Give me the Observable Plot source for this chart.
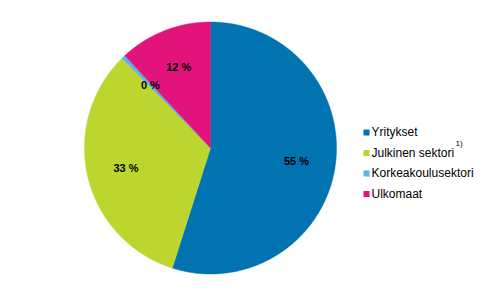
<!DOCTYPE html>
<html><head><meta charset="utf-8">
<script src="https://cdn.jsdelivr.net/npm/d3@7"></script>
<script src="https://cdn.jsdelivr.net/npm/@observablehq/plot@0.6"></script>
<style>body{margin:0;background:#fff}</style>
</head><body><div id="chart"></div>
<script>
const categories = ["Yritykset", "Julkinen sektori", "Korkeakoulusektori", "Ulkomaat"];
const shares = [54.9, 32.7, 0.5, 11.9];
const valueLabels = ["55 %", "33 %", "0 %", "12 %"];
const footnotes = ["", "1)", "", ""];
const colors = ["#0073b0", "#bdd52f", "#5db3e6", "#e2137b"];

const W = 487, H = 302;
const cx = 210, cy = 147.5, R = 126;
const data = categories.map((name, i) => ({name, share: shares[i], label: valueLabels[i], note: footnotes[i], i}));
const arcs = d3.pie().sort(null).value(d => d.share)(data);

const slicePts = [];
for (const a of arcs) {
  slicePts.push({name: a.data.name, x: cx, y: cy});
  const n = Math.max(2, Math.ceil((a.endAngle - a.startAngle) / 0.01));
  for (let k = 0; k <= n; k++) {
    const t = a.startAngle + (a.endAngle - a.startAngle) * k / n;
    slicePts.push({name: a.data.name, x: cx + R * Math.sin(t), y: cy - R * Math.cos(t)});
  }
  slicePts.push({name: a.data.name, x: cx, y: cy});
}
const labelPts = arcs.map(a => {
  const m = (a.startAngle + a.endAngle) / 2;
  const rr = R * 0.69;
  return {label: a.data.label, x: cx + rr * Math.sin(m), y: cy - rr * Math.cos(m)};
});
const legX = 366, legY0 = 132, legDy = 20.5;
const legend = data.map(d => ({...d, x: legX, y: legY0 + d.i * legDy}));

const chart = Plot.plot({
  width: W, height: H,
  margin: 0,
  x: {domain: [0, W], range: [0, W], axis: null},
  y: {domain: [0, H], range: [0, H], axis: null},
  color: {domain: categories, range: colors},
  style: {fontFamily: "Arial, 'Liberation Sans', sans-serif", background: "#fff"},
  marks: [
    Plot.line(slicePts, {x: "x", y: "y", z: "name", fill: "name", stroke: "name", strokeWidth: 0.5, curve: "linear"}),
    Plot.text(labelPts, {x: "x", y: "y", text: "label", fontSize: 11, fontWeight: "bold", fill: "#000"}),
    Plot.dot(legend, {x: "x", y: "y", symbol: "square", r: 3.4, fill: "name", stroke: null}),
    Plot.text(legend, {x: d => d.x + 5, y: "y", text: "name", textAnchor: "start", fontSize: 12, fill: "#000"}),
    Plot.text(legend.filter(d => d.note), {x: d => d.x + 89, y: d => d.y - 10, text: "note", textAnchor: "start", fontSize: 8, fill: "#000"})
  ]
});
document.getElementById("chart").appendChild(chart);
</script>
</body></html>
